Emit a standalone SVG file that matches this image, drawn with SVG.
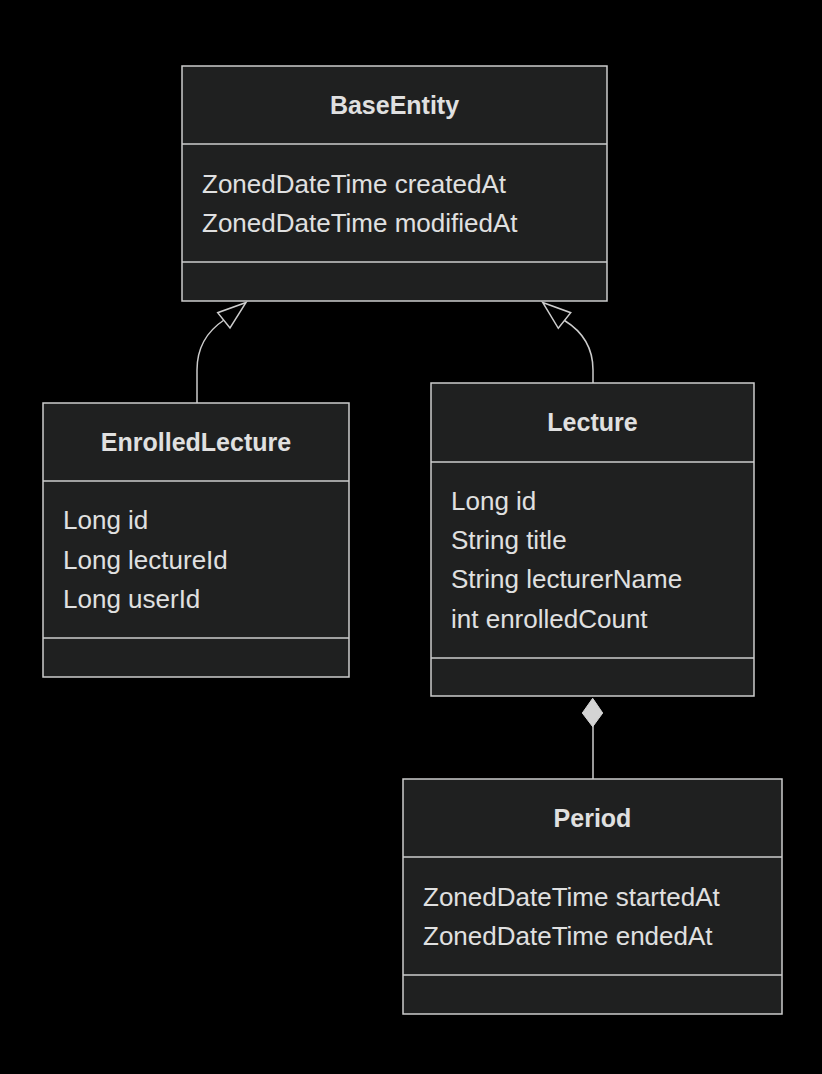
<svg xmlns="http://www.w3.org/2000/svg" width="822" height="1074" viewBox="0 0 822 1074">
<style>
.bg{fill:#000}
.box{fill:#1f2020;stroke:#cccccc;stroke-width:1.5}
.div{stroke:#cccccc;stroke-width:1.5}
.t{font-family:"Liberation Sans",Arial,sans-serif;font-size:26px;fill:#e0e0e0;dominant-baseline:central}
.title{font-weight:bold;text-anchor:middle;font-size:25px}
.edge{fill:none;stroke:#cccccc;stroke-width:1.5}
.ext{fill:#000;stroke:#cccccc;stroke-width:1.5}
.comp{fill:#d4d4d4;stroke:#d4d4d4;stroke-width:1}
</style>
<rect class="bg" x="0" y="0" width="822" height="1074"/>

<g id="connectors">
<path class="edge" d="M197,403 L197,370 Q197,338 224,320"/>
<path class="ext" d="M246,302.5 L217.7,312.7 L230,328 Z"/>
<path class="edge" d="M593,383 L593,370 Q593,338 564.5,320.5"/>
<path class="ext" d="M542.7,302.5 L570.7,312.7 L558.3,328.3 Z"/>
<path class="edge" d="M593,726 L593,779"/>
<path class="comp" d="M592.7,698.3 L602.7,713 L592.7,726.7 L582.3,713 Z"/>
</g>

<g id="BaseEntity">
<rect class="box" x="182" y="66" width="425" height="235"/>
<line class="div" x1="182" y1="144" x2="607" y2="144"/>
<line class="div" x1="182" y1="262" x2="607" y2="262"/>
<text class="t title" x="394.5" y="105">BaseEntity</text>
<text class="t" x="202" y="184">ZonedDateTime createdAt</text>
<text class="t" x="202" y="223">ZonedDateTime modifiedAt</text>
</g>

<g id="EnrolledLecture">
<rect class="box" x="43" y="403" width="306" height="274"/>
<line class="div" x1="43" y1="481" x2="349" y2="481"/>
<line class="div" x1="43" y1="638" x2="349" y2="638"/>
<text class="t title" x="196" y="442">EnrolledLecture</text>
<text class="t" x="63" y="520">Long id</text>
<text class="t" x="63" y="560">Long lectureId</text>
<text class="t" x="63" y="599">Long userId</text>
</g>

<g id="Lecture">
<rect class="box" x="431" y="383" width="323" height="313"/>
<line class="div" x1="431" y1="462" x2="754" y2="462"/>
<line class="div" x1="431" y1="658" x2="754" y2="658"/>
<text class="t title" x="592.5" y="422">Lecture</text>
<text class="t" x="451" y="501">Long id</text>
<text class="t" x="451" y="540">String title</text>
<text class="t" x="451" y="579">String lecturerName</text>
<text class="t" x="451" y="619">int enrolledCount</text>
</g>

<g id="Period">
<rect class="box" x="403" y="779" width="379" height="235"/>
<line class="div" x1="403" y1="857" x2="782" y2="857"/>
<line class="div" x1="403" y1="975" x2="782" y2="975"/>
<text class="t title" x="592.5" y="818">Period</text>
<text class="t" x="423" y="897">ZonedDateTime startedAt</text>
<text class="t" x="423" y="936">ZonedDateTime endedAt</text>
</g>
</svg>
